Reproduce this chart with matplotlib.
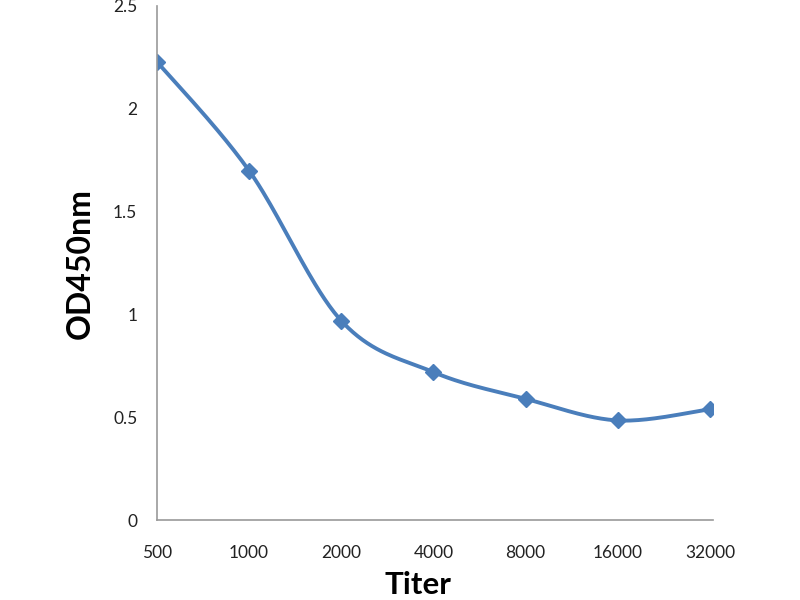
import numpy as np
import matplotlib.pyplot as plt

titers = ["500", "1000", "2000", "4000", "8000", "16000", "32000"]
od450 = [2.23, 1.70, 0.97, 0.72, 0.59, 0.485, 0.54]

line_color = "#4A7EBB"


def smooth(xs, ys, n=40):
    # Catmull-Rom style curve like the spreadsheet's smoothed line
    xs = np.asarray(xs, float)
    ys = np.asarray(ys, float)
    px = np.concatenate([[xs[0]], xs, [xs[-1]]])
    py = np.concatenate([[ys[0]], ys, [ys[-1]]])
    out_x, out_y = [], []
    for i in range(1, len(px) - 2):
        t = np.linspace(0, 1, n)
        p0, p1, p2, p3 = px[i - 1], px[i], px[i + 1], px[i + 2]
        q0, q1, q2, q3 = py[i - 1], py[i], py[i + 1], py[i + 2]
        bx = [p1, p1 + (p2 - p0) / 6, p2 - (p3 - p1) / 6, p2]
        by = [q1, q1 + (q2 - q0) / 6, q2 - (q3 - q1) / 6, q2]
        b = [(1 - t) ** 3, 3 * t * (1 - t) ** 2, 3 * t ** 2 * (1 - t), t ** 3]
        out_x.extend(sum(c * w for c, w in zip(bx, b)))
        out_y.extend(sum(c * w for c, w in zip(by, b)))
    return out_x, out_y


plt.rcParams['font.family'] = ['Lato', 'DejaVu Sans']

fig = plt.figure(figsize=(8, 6), dpi=100)
ax = fig.add_axes([0.196, 0.133, 0.695, 0.857])

x = np.arange(len(titers))
sx, sy = smooth(x, od450)
ax.plot(sx, sy, color=line_color, linewidth=2.8, solid_capstyle='round')
ax.plot(x, od450, linestyle='none', marker='D', markersize=8, color=line_color)

ax.set_xlim(0, 6.03)
ax.set_ylim(0, 2.5)
ax.set_xticks(x)
ax.set_xticklabels(titers)
ax.set_yticks([0, 0.5, 1, 1.5, 2, 2.5])
ax.set_yticklabels(["0", "0.5", "1", "1.5", "2", "2.5"])
ax.tick_params(length=0, labelsize=12.5, colors='#222222')
ax.tick_params(axis='x', pad=18)
ax.tick_params(axis='y', pad=14)

for s in ['top', 'right']:
    ax.spines[s].set_visible(False)
for s in ['left', 'bottom']:
    ax.spines[s].set_color('#999999')
    ax.spines[s].set_linewidth(1.2)

ax.set_xlabel("Titer", fontsize=22.5, fontweight='bold')
ax.xaxis.set_label_coords(0.469, -0.099)
ax.set_ylabel("OD450nm", fontsize=23, fontweight='bold', labelpad=13)

fig.savefig("out.png", dpi=100)
